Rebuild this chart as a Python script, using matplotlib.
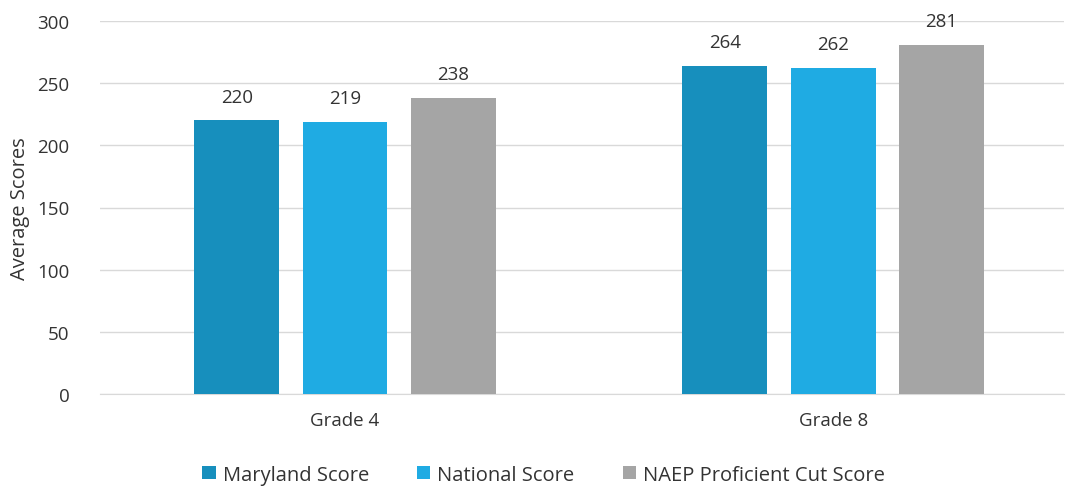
import numpy as np
import matplotlib
matplotlib.use("Agg")
import matplotlib.pyplot as plt

plt.rcParams['font.family'] = ['Open Sans', 'DejaVu Sans']

grades = ["Grade 4", "Grade 8"]
series_names = ["Maryland Score", "National Score", "NAEP Proficient Cut Score"]
maryland = [220, 264]
national = [219, 262]
naep_cut = [238, 281]
colors = ["#178FBD", "#1FABE3", "#A5A5A5"]
text_color = "#333333"

fig = plt.figure(figsize=(10.66, 4.89), dpi=100)
ax = fig.add_axes([100 / 1066, 1 - 395 / 489, 964 / 1066, 373 / 489])

x = np.arange(len(grades))
width = 0.174
step = 0.222
for i, (name, vals) in enumerate(zip(series_names, [maryland, national, naep_cut])):
    bars = ax.bar(x + (i - 1) * step, vals, width, color=colors[i], label=name, zorder=3)
    for b, v in zip(bars, vals):
        ax.text(b.get_x() + b.get_width() / 2, v + 12, str(v), ha="center", va="bottom",
                fontsize=13.5, color=text_color)

ax.set_xlim(-0.502, 1.473)
ax.set_ylim(0, 300)
ax.set_yticks(range(0, 301, 50))
ax.tick_params(axis="y", length=0, labelsize=13.5, labelcolor=text_color, pad=22)
ax.set_xticks(x)
ax.set_xticklabels(grades)
ax.tick_params(axis="x", length=0, labelsize=13.5, labelcolor=text_color, pad=12)
ax.grid(axis="y", color="#D9D9D9", linewidth=1, zorder=0)
for s in ["top", "right", "left"]:
    ax.spines[s].set_visible(False)
ax.spines["bottom"].set_color("#D9D9D9")
ax.set_ylabel("Average Scores", fontsize=14.5, color=text_color, labelpad=5)

fig.legend(loc="lower center", bbox_to_anchor=(0.51, -0.03), ncol=3, frameon=False,
           fontsize=14.5, labelcolor=text_color, handlelength=0.65, handleheight=0.65,
           columnspacing=2.4, handletextpad=0.35)

fig.savefig("out.png", dpi=100)
